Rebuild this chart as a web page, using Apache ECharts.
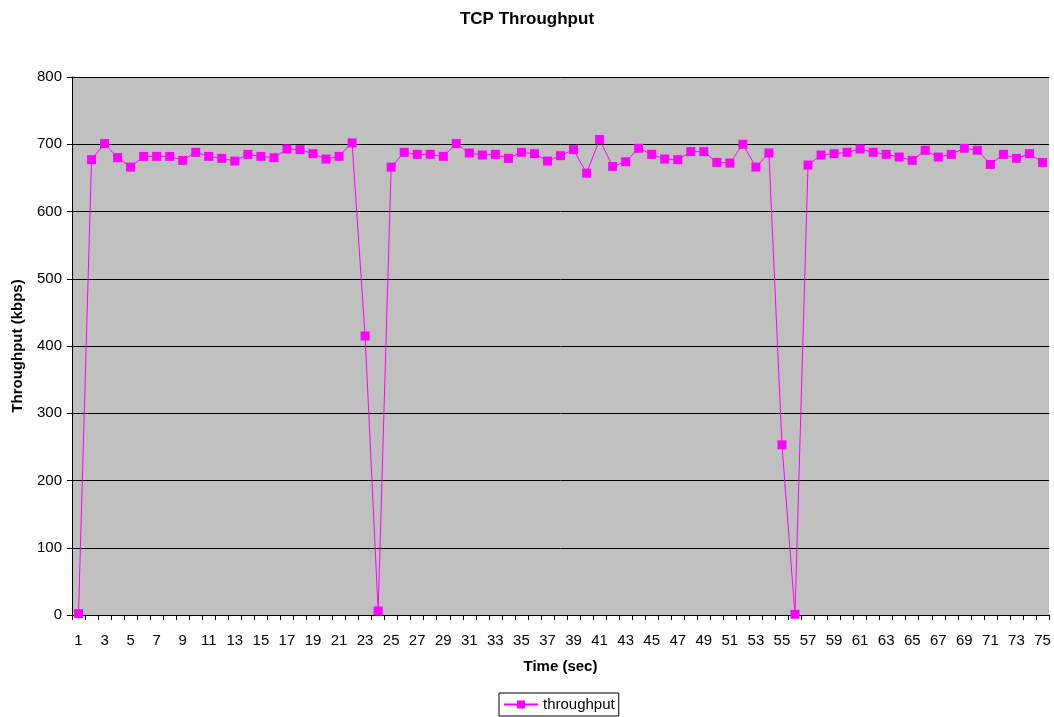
<!DOCTYPE html>
<html><head><meta charset="utf-8">
<script src="https://cdn.jsdelivr.net/npm/echarts@6/dist/echarts.min.js"></script>
<style>html,body{margin:0;padding:0;background:#fff}#c{width:1054px;height:717px}</style>
</head><body><div id="c"></div>
<script>
const categories = Array.from({length: 75}, (_, i) => String(i + 1));
const throughput = [
  2, 677, 701, 680, 666, 682, 682, 682, 676, 688,
  682, 679, 675, 685, 682, 680, 693, 692, 686, 678,
  682, 702, 415, 6, 666, 688, 685, 685, 682, 701,
  687, 684, 685, 679, 688, 686, 675, 683, 692, 657,
  707, 667, 674, 694, 685, 678, 677, 689, 689, 673,
  672, 700, 666, 687, 253, 1, 669, 684, 686, 688,
  693, 688, 685, 681, 676, 691, 681, 685, 694, 691,
  670, 685, 679, 686, 673
];
const yTicks = [0, 100, 200, 300, 400, 500, 600, 700, 800];

const chart = echarts.init(document.getElementById('c'), null, {renderer: 'canvas'});
const font = 'Liberation Sans, Arial, sans-serif';
chart.setOption({
  animation: false,
  backgroundColor: '#fff',
  title: {
    text: 'TCP Throughput', left: 'center', top: 6,
    textStyle: {fontFamily: font, fontSize: 17, fontWeight: 'bold', color: '#000'}
  },
  legend: {
    data: ['throughput'], top: 693, left: 499,
    borderColor: '#000', borderWidth: 1, padding: [4, 4, 4, 4],
    itemWidth: 34, itemHeight: 10, itemGap: 4,
    textStyle: {fontFamily: font, fontSize: 15, color: '#000'}
  },
  grid: {left: 72, right: 5, top: 77, bottom: 102, show: true, backgroundColor: '#C0C0C0', borderWidth: 0,
         containLabel: false, outerBoundsMode: 'none'},
  xAxis: {
    type: 'category', data: categories, boundaryGap: true,
    name: 'Time (sec)', nameLocation: 'middle', nameGap: 44,
    nameTextStyle: {fontFamily: font, fontSize: 15, fontWeight: 'bold', color: '#000'},
    axisLine: {lineStyle: {color: '#000', width: 1}},
    axisTick: {show: true, interval: 0, length: 5, lineStyle: {color: '#000'}},
    axisLabel: {interval: 1, fontFamily: font, fontSize: 15, color: '#000', margin: 18}
  },
  yAxis: {
    type: 'value', min: yTicks[0], max: yTicks[yTicks.length - 1], interval: 100,
    name: 'Throughput (kbps)', nameLocation: 'middle', nameGap: 47,
    nameTextStyle: {fontFamily: font, fontSize: 15, fontWeight: 'bold', color: '#000'},
    axisLine: {show: true, lineStyle: {color: '#000', width: 1}},
    axisTick: {show: true, length: 5, lineStyle: {color: '#000'}},
    axisLabel: {fontFamily: font, fontSize: 15, color: '#000', margin: 10},
    splitLine: {show: true, lineStyle: {color: '#000', width: 1}}
  },
  series: [{
    name: 'throughput', type: 'line', data: throughput,
    symbol: 'rect', symbolSize: 9, showAllSymbol: true,
    lineStyle: {color: '#FF00FF', width: 1},
    itemStyle: {color: '#FF00FF'}
  }]
});
</script></body></html>
